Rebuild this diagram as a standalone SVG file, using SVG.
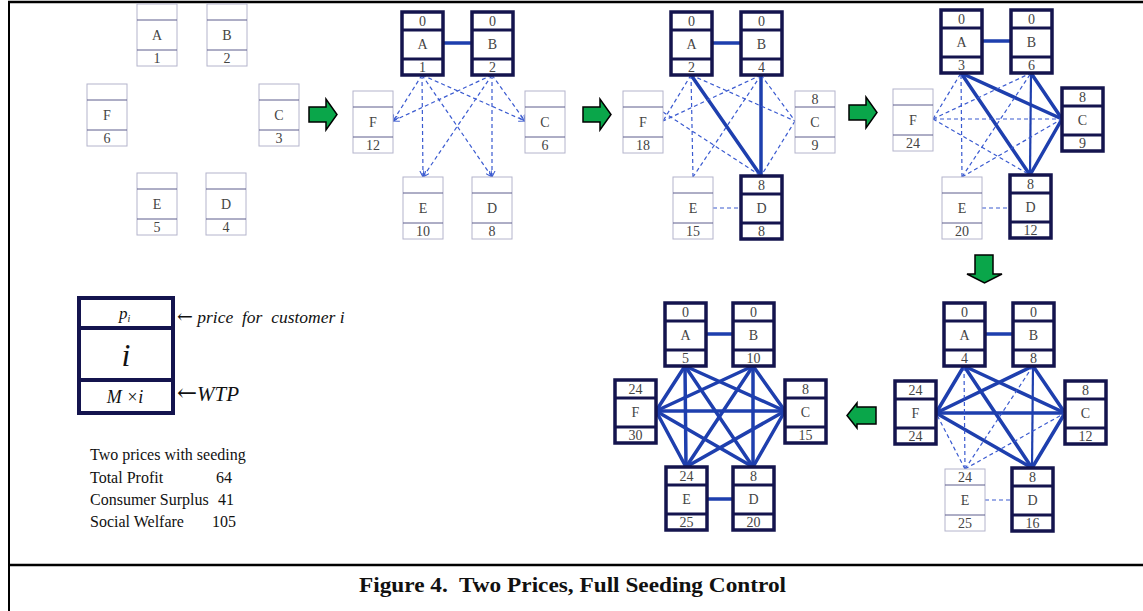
<svg xmlns="http://www.w3.org/2000/svg" width="1143" height="611" viewBox="0 0 1143 611">
  <defs>
    <style>
      .thin rect { fill: #fff; stroke: #b4b4cc; stroke-width: 1; }
      .thin line { stroke: #5c5c8c; stroke-width: 1; }
      .thick rect { fill: #fff; stroke: #14144e; stroke-width: 3.5; }
      .thick line { stroke: #14144e; stroke-width: 3; }
      .nt { font-family: "Liberation Serif", "Times New Roman", serif; font-size: 14px; fill: #444; text-anchor: middle; }
      .s { stroke: #1e3fae; stroke-width: 3.5; fill: none; stroke-linecap: round; }
      .m { stroke: #1e3fae; stroke-width: 2.2; fill: none; }
      .d { stroke: #3a5ad0; stroke-width: 1.2; fill: none; stroke-dasharray: 4 3; }
      .da { stroke: #3a5ad0; stroke-width: 1.2; fill: none; stroke-dasharray: 4 3; marker-end: url(#tip); }
      .go { fill: #0aa64a; stroke: #000; stroke-width: 1.5; stroke-linejoin: miter; }
      .serif { font-family: "Liberation Serif", "Times New Roman", serif; fill: #111; }
      .arr { font-family: "DejaVu Serif", "DejaVu Sans", serif; font-style: normal; }
    </style>
    <marker id="tip" viewBox="0 0 8 8" refX="7" refY="4" markerWidth="7" markerHeight="7" markerUnits="userSpaceOnUse" orient="auto">
      <path d="M0,0.5 L7,4 L0,7.5" fill="none" stroke="#3a5ad0" stroke-width="1.2"/>
    </marker>
  </defs>

  <rect width="1143" height="611" fill="#fff"/>

  <!-- frame -->
  <g id="frame" stroke="#000" fill="none">
    <line x1="8" y1="2" x2="1143" y2="2" stroke-width="2.5"/>
    <line x1="9" y1="1" x2="9" y2="611" stroke-width="2"/>
    <line x1="8" y1="565" x2="1143" y2="565" stroke-width="2.5"/>
  </g>

  <!-- connectors -->
  <g id="connectors">
    <!-- step 2 -->
    <line class="s" x1="443" y1="43" x2="472" y2="43"/>
    <line class="da" x1="422" y1="75" x2="393" y2="121"/>
    <line class="da" x1="422" y1="75" x2="525" y2="121"/>
    <line class="da" x1="422" y1="75" x2="423" y2="177"/>
    <line class="da" x1="422" y1="75" x2="492" y2="177"/>
    <line class="da" x1="492" y1="75" x2="393" y2="121"/>
    <line class="da" x1="492" y1="75" x2="525" y2="121"/>
    <line class="da" x1="492" y1="75" x2="423" y2="177"/>
    <line class="da" x1="492" y1="75" x2="492" y2="177"/>

    <!-- step 3 -->
    <line class="s" x1="712" y1="43" x2="741" y2="43"/>
    <line class="s" x1="691" y1="75" x2="761" y2="176"/>
    <line class="s" x1="761" y1="75" x2="761" y2="176"/>
    <line class="d" x1="691" y1="75" x2="663" y2="121"/>
    <line class="d" x1="691" y1="75" x2="795" y2="121"/>
    <line class="d" x1="691" y1="75" x2="693" y2="177"/>
    <line class="d" x1="761" y1="75" x2="663" y2="121"/>
    <line class="d" x1="761" y1="75" x2="795" y2="121"/>
    <line class="d" x1="761" y1="75" x2="693" y2="177"/>
    <line class="d" x1="663" y1="112" x2="761" y2="176"/>
    <line class="d" x1="795" y1="121" x2="761" y2="176"/>
    <line class="d" x1="713" y1="208" x2="741" y2="208"/>

    <!-- step 4 -->
    <line class="s" x1="982" y1="41" x2="1011" y2="41"/>
    <line class="s" x1="961" y1="73" x2="1062" y2="119"/>
    <line class="s" x1="961" y1="73" x2="1030" y2="175"/>
    <line class="s" x1="1031" y1="73" x2="1062" y2="119"/>
    <line class="m" x1="1031" y1="73" x2="1030" y2="175"/>
    <line class="s" x1="1062" y1="119" x2="1030" y2="175"/>
    <line class="d" x1="933" y1="119" x2="961" y2="73"/>
    <line class="d" x1="933" y1="119" x2="1031" y2="73"/>
    <line class="d" x1="933" y1="119" x2="1062" y2="119"/>
    <line class="d" x1="933" y1="119" x2="1030" y2="175"/>
    <line class="d" x1="962" y1="177" x2="961" y2="73"/>
    <line class="d" x1="962" y1="177" x2="1031" y2="73"/>
    <line class="d" x1="962" y1="177" x2="1062" y2="119"/>
    <line class="d" x1="982" y1="208" x2="1010" y2="208"/>

    <!-- step 5 -->
    <line class="s" x1="985" y1="334" x2="1013" y2="334"/>
    <line class="s" x1="964" y1="366" x2="936" y2="413"/>
    <line class="s" x1="964" y1="366" x2="1065" y2="413"/>
    <line class="s" x1="964" y1="366" x2="1032" y2="468"/>
    <line class="s" x1="1033" y1="366" x2="936" y2="413"/>
    <line class="s" x1="1033" y1="366" x2="1065" y2="413"/>
    <line class="m" x1="1033" y1="366" x2="1032" y2="468"/>
    <line class="s" x1="936" y1="413" x2="1065" y2="413"/>
    <line class="s" x1="936" y1="413" x2="1032" y2="468"/>
    <line class="s" x1="1065" y1="413" x2="1032" y2="468"/>
    <line class="d" x1="965" y1="469" x2="964" y2="366"/>
    <line class="d" x1="965" y1="469" x2="1033" y2="366"/>
    <line class="d" x1="965" y1="469" x2="1065" y2="413"/>
    <line class="d" x1="965" y1="469" x2="936" y2="413"/>
    <line class="d" x1="985" y1="500" x2="1012" y2="500"/>

    <!-- step 6 -->
    <line class="s" x1="706" y1="334" x2="733" y2="334"/>
    <line class="s" x1="707" y1="499" x2="733" y2="499"/>
    <line class="s" x1="685" y1="366" x2="656" y2="411"/>
    <line class="s" x1="685" y1="366" x2="785" y2="411"/>
    <line class="s" x1="685" y1="366" x2="686" y2="467"/>
    <line class="s" x1="685" y1="366" x2="753" y2="467"/>
    <line class="s" x1="753" y1="366" x2="656" y2="411"/>
    <line class="s" x1="753" y1="366" x2="785" y2="411"/>
    <line class="s" x1="753" y1="366" x2="686" y2="467"/>
    <line class="s" x1="753" y1="366" x2="753" y2="467"/>
    <line class="s" x1="656" y1="411" x2="785" y2="411"/>
    <line class="s" x1="656" y1="411" x2="686" y2="467"/>
    <line class="s" x1="656" y1="411" x2="753" y2="467"/>
    <line class="s" x1="785" y1="411" x2="686" y2="467"/>
    <line class="s" x1="785" y1="411" x2="753" y2="467"/>
  </g>

  <!-- step arrows -->
  <g id="step-arrows">
    <polygon class="go" points="309,107 326,107 326,99 337,114.5 326,130 326,122 309,122"/>
    <polygon class="go" points="583,107 600,107 600,99 611,114.5 600,130 600,122 583,122"/>
    <polygon class="go" points="849,105 866,105 866,97 877,112.5 866,128 866,120 849,120"/>
    <polygon class="go" points="975,255 993,255 993,274 1002,274 984.5,283 967,274 975,274"/>
    <polygon class="go" points="876,407 857,407 857,403 847,415.5 857,428 857,424 876,424"/>
  </g>

  <!-- step 1 -->
  <g id="s1-A" class="thin" transform="translate(137,4)"><rect width="40" height="62"/><line x1="0" y1="16" x2="40" y2="16"/><line x1="0" y1="46" x2="40" y2="46"/><text class="nt" x="20" y="36">A</text><text class="nt" x="20" y="59">1</text></g>
  <g id="s1-B" class="thin" transform="translate(207,4)"><rect width="40" height="62"/><line x1="0" y1="16" x2="40" y2="16"/><line x1="0" y1="46" x2="40" y2="46"/><text class="nt" x="20" y="36">B</text><text class="nt" x="20" y="59">2</text></g>
  <g id="s1-F" class="thin" transform="translate(87,84)"><rect width="40" height="62"/><line x1="0" y1="16" x2="40" y2="16"/><line x1="0" y1="46" x2="40" y2="46"/><text class="nt" x="20" y="36">F</text><text class="nt" x="20" y="59">6</text></g>
  <g id="s1-C" class="thin" transform="translate(259,84)"><rect width="40" height="62"/><line x1="0" y1="16" x2="40" y2="16"/><line x1="0" y1="46" x2="40" y2="46"/><text class="nt" x="20" y="36">C</text><text class="nt" x="20" y="59">3</text></g>
  <g id="s1-E" class="thin" transform="translate(137,173)"><rect width="40" height="62"/><line x1="0" y1="16" x2="40" y2="16"/><line x1="0" y1="46" x2="40" y2="46"/><text class="nt" x="20" y="36">E</text><text class="nt" x="20" y="59">5</text></g>
  <g id="s1-D" class="thin" transform="translate(206,173)"><rect width="40" height="62"/><line x1="0" y1="16" x2="40" y2="16"/><line x1="0" y1="46" x2="40" y2="46"/><text class="nt" x="20" y="36">D</text><text class="nt" x="20" y="59">4</text></g>

  <!-- step 2 -->
  <g id="s2-A" class="thick" transform="translate(402,12)"><rect width="41" height="63"/><line x1="0" y1="18" x2="41" y2="18"/><line x1="0" y1="47" x2="41" y2="47"/><text class="nt" x="20.5" y="14">0</text><text class="nt" x="20.5" y="37">A</text><text class="nt" x="20.5" y="60">1</text></g>
  <g id="s2-B" class="thick" transform="translate(472,12)"><rect width="41" height="63"/><line x1="0" y1="18" x2="41" y2="18"/><line x1="0" y1="47" x2="41" y2="47"/><text class="nt" x="20.5" y="14">0</text><text class="nt" x="20.5" y="37">B</text><text class="nt" x="20.5" y="60">2</text></g>
  <g id="s2-F" class="thin" transform="translate(353,91)"><rect width="40" height="62"/><line x1="0" y1="16" x2="40" y2="16"/><line x1="0" y1="46" x2="40" y2="46"/><text class="nt" x="20" y="36">F</text><text class="nt" x="20" y="59">12</text></g>
  <g id="s2-C" class="thin" transform="translate(525,91)"><rect width="40" height="62"/><line x1="0" y1="16" x2="40" y2="16"/><line x1="0" y1="46" x2="40" y2="46"/><text class="nt" x="20" y="36">C</text><text class="nt" x="20" y="59">6</text></g>
  <g id="s2-E" class="thin" transform="translate(403,177)"><rect width="40" height="62"/><line x1="0" y1="16" x2="40" y2="16"/><line x1="0" y1="46" x2="40" y2="46"/><text class="nt" x="20" y="36">E</text><text class="nt" x="20" y="59">10</text></g>
  <g id="s2-D" class="thin" transform="translate(472,177)"><rect width="40" height="62"/><line x1="0" y1="16" x2="40" y2="16"/><line x1="0" y1="46" x2="40" y2="46"/><text class="nt" x="20" y="36">D</text><text class="nt" x="20" y="59">8</text></g>

  <!-- step 3 -->
  <g id="s3-A" class="thick" transform="translate(671,12)"><rect width="41" height="63"/><line x1="0" y1="18" x2="41" y2="18"/><line x1="0" y1="47" x2="41" y2="47"/><text class="nt" x="20.5" y="14">0</text><text class="nt" x="20.5" y="37">A</text><text class="nt" x="20.5" y="60">2</text></g>
  <g id="s3-B" class="thick" transform="translate(741,12)"><rect width="41" height="63"/><line x1="0" y1="18" x2="41" y2="18"/><line x1="0" y1="47" x2="41" y2="47"/><text class="nt" x="20.5" y="14">0</text><text class="nt" x="20.5" y="37">B</text><text class="nt" x="20.5" y="60">4</text></g>
  <g id="s3-F" class="thin" transform="translate(623,91)"><rect width="40" height="62"/><line x1="0" y1="16" x2="40" y2="16"/><line x1="0" y1="46" x2="40" y2="46"/><text class="nt" x="20" y="36">F</text><text class="nt" x="20" y="59">18</text></g>
  <g id="s3-C" class="thin" transform="translate(795,91)"><rect width="40" height="62"/><line x1="0" y1="16" x2="40" y2="16"/><line x1="0" y1="46" x2="40" y2="46"/><text class="nt" x="20" y="13">8</text><text class="nt" x="20" y="36">C</text><text class="nt" x="20" y="59">9</text></g>
  <g id="s3-E" class="thin" transform="translate(673,177)"><rect width="40" height="62"/><line x1="0" y1="16" x2="40" y2="16"/><line x1="0" y1="46" x2="40" y2="46"/><text class="nt" x="20" y="36">E</text><text class="nt" x="20" y="59">15</text></g>
  <g id="s3-D" class="thick" transform="translate(741,176)"><rect width="41" height="63"/><line x1="0" y1="18" x2="41" y2="18"/><line x1="0" y1="47" x2="41" y2="47"/><text class="nt" x="20.5" y="14">8</text><text class="nt" x="20.5" y="37">D</text><text class="nt" x="20.5" y="60">8</text></g>

  <!-- step 4 -->
  <g id="s4-A" class="thick" transform="translate(941,10)"><rect width="41" height="63"/><line x1="0" y1="18" x2="41" y2="18"/><line x1="0" y1="47" x2="41" y2="47"/><text class="nt" x="20.5" y="14">0</text><text class="nt" x="20.5" y="37">A</text><text class="nt" x="20.5" y="60">3</text></g>
  <g id="s4-B" class="thick" transform="translate(1011,10)"><rect width="41" height="63"/><line x1="0" y1="18" x2="41" y2="18"/><line x1="0" y1="47" x2="41" y2="47"/><text class="nt" x="20.5" y="14">0</text><text class="nt" x="20.5" y="37">B</text><text class="nt" x="20.5" y="60">6</text></g>
  <g id="s4-F" class="thin" transform="translate(893,89)"><rect width="40" height="62"/><line x1="0" y1="16" x2="40" y2="16"/><line x1="0" y1="46" x2="40" y2="46"/><text class="nt" x="20" y="36">F</text><text class="nt" x="20" y="59">24</text></g>
  <g id="s4-C" class="thick" transform="translate(1062,88)"><rect width="41" height="63"/><line x1="0" y1="18" x2="41" y2="18"/><line x1="0" y1="47" x2="41" y2="47"/><text class="nt" x="20.5" y="14">8</text><text class="nt" x="20.5" y="37">C</text><text class="nt" x="20.5" y="60">9</text></g>
  <g id="s4-E" class="thin" transform="translate(942,177)"><rect width="40" height="62"/><line x1="0" y1="16" x2="40" y2="16"/><line x1="0" y1="46" x2="40" y2="46"/><text class="nt" x="20" y="36">E</text><text class="nt" x="20" y="59">20</text></g>
  <g id="s4-D" class="thick" transform="translate(1010,175)"><rect width="41" height="63"/><line x1="0" y1="18" x2="41" y2="18"/><line x1="0" y1="47" x2="41" y2="47"/><text class="nt" x="20.5" y="14">8</text><text class="nt" x="20.5" y="37">D</text><text class="nt" x="20.5" y="60">12</text></g>

  <!-- step 5 -->
  <g id="s5-A" class="thick" transform="translate(944,303)"><rect width="41" height="63"/><line x1="0" y1="18" x2="41" y2="18"/><line x1="0" y1="47" x2="41" y2="47"/><text class="nt" x="20.5" y="14">0</text><text class="nt" x="20.5" y="37">A</text><text class="nt" x="20.5" y="60">4</text></g>
  <g id="s5-B" class="thick" transform="translate(1013,303)"><rect width="41" height="63"/><line x1="0" y1="18" x2="41" y2="18"/><line x1="0" y1="47" x2="41" y2="47"/><text class="nt" x="20.5" y="14">0</text><text class="nt" x="20.5" y="37">B</text><text class="nt" x="20.5" y="60">8</text></g>
  <g id="s5-F" class="thick" transform="translate(895,381)"><rect width="41" height="63"/><line x1="0" y1="18" x2="41" y2="18"/><line x1="0" y1="47" x2="41" y2="47"/><text class="nt" x="20.5" y="14">24</text><text class="nt" x="20.5" y="37">F</text><text class="nt" x="20.5" y="60">24</text></g>
  <g id="s5-C" class="thick" transform="translate(1065,381)"><rect width="41" height="63"/><line x1="0" y1="18" x2="41" y2="18"/><line x1="0" y1="47" x2="41" y2="47"/><text class="nt" x="20.5" y="14">8</text><text class="nt" x="20.5" y="37">C</text><text class="nt" x="20.5" y="60">12</text></g>
  <g id="s5-E" class="thin" transform="translate(945,469)"><rect width="40" height="62"/><line x1="0" y1="16" x2="40" y2="16"/><line x1="0" y1="46" x2="40" y2="46"/><text class="nt" x="20" y="13">24</text><text class="nt" x="20" y="36">E</text><text class="nt" x="20" y="59">25</text></g>
  <g id="s5-D" class="thick" transform="translate(1012,468)"><rect width="41" height="63"/><line x1="0" y1="18" x2="41" y2="18"/><line x1="0" y1="47" x2="41" y2="47"/><text class="nt" x="20.5" y="14">8</text><text class="nt" x="20.5" y="37">D</text><text class="nt" x="20.5" y="60">16</text></g>

  <!-- step 6 -->
  <g id="s6-A" class="thick" transform="translate(665,303)"><rect width="41" height="63"/><line x1="0" y1="18" x2="41" y2="18"/><line x1="0" y1="47" x2="41" y2="47"/><text class="nt" x="20.5" y="14">0</text><text class="nt" x="20.5" y="37">A</text><text class="nt" x="20.5" y="60">5</text></g>
  <g id="s6-B" class="thick" transform="translate(733,303)"><rect width="41" height="63"/><line x1="0" y1="18" x2="41" y2="18"/><line x1="0" y1="47" x2="41" y2="47"/><text class="nt" x="20.5" y="14">0</text><text class="nt" x="20.5" y="37">B</text><text class="nt" x="20.5" y="60">10</text></g>
  <g id="s6-F" class="thick" transform="translate(615,380)"><rect width="41" height="63"/><line x1="0" y1="18" x2="41" y2="18"/><line x1="0" y1="47" x2="41" y2="47"/><text class="nt" x="20.5" y="14">24</text><text class="nt" x="20.5" y="37">F</text><text class="nt" x="20.5" y="60">30</text></g>
  <g id="s6-C" class="thick" transform="translate(785,380)"><rect width="41" height="63"/><line x1="0" y1="18" x2="41" y2="18"/><line x1="0" y1="47" x2="41" y2="47"/><text class="nt" x="20.5" y="14">8</text><text class="nt" x="20.5" y="37">C</text><text class="nt" x="20.5" y="60">15</text></g>
  <g id="s6-E" class="thick" transform="translate(666,467)"><rect width="41" height="63"/><line x1="0" y1="18" x2="41" y2="18"/><line x1="0" y1="47" x2="41" y2="47"/><text class="nt" x="20.5" y="14">24</text><text class="nt" x="20.5" y="37">E</text><text class="nt" x="20.5" y="60">25</text></g>
  <g id="s6-D" class="thick" transform="translate(733,467)"><rect width="41" height="63"/><line x1="0" y1="18" x2="41" y2="18"/><line x1="0" y1="47" x2="41" y2="47"/><text class="nt" x="20.5" y="14">8</text><text class="nt" x="20.5" y="37">D</text><text class="nt" x="20.5" y="60">20</text></g>

  <!-- legend -->
  <g id="legend">
    <rect x="79" y="298" width="94" height="115" fill="#fff" stroke="#14144e" stroke-width="4"/>
    <line x1="79" y1="328" x2="173" y2="328" stroke="#14144e" stroke-width="4"/>
    <line x1="79" y1="380" x2="173" y2="380" stroke="#14144e" stroke-width="4"/>
    <text class="serif" x="119" y="319" font-size="17" font-style="italic">p<tspan font-size="10" dy="3">i</tspan></text>
    <text class="serif" x="126" y="366" font-size="32" font-style="italic" text-anchor="middle">i</text>
    <text class="serif" x="125" y="403" font-size="18" font-style="italic" text-anchor="middle">M ×i</text>
    <text class="serif" x="177" y="323" font-size="17.5" font-style="italic" xml:space="preserve"><tspan class="arr" font-size="19">←</tspan> price  for  customer i</text>
    <text class="serif" x="177" y="401" font-size="21" font-style="italic"><tspan class="arr" font-size="24">←</tspan>WTP</text>
  </g>

  <!-- results -->
  <g id="results" class="serif" font-size="16">
    <text x="90" y="460">Two prices with seeding</text>
    <text x="90" y="483">Total Profit</text>
    <text x="216" y="483">64</text>
    <text x="90" y="505">Consumer Surplus</text>
    <text x="218" y="505">41</text>
    <text x="90" y="527">Social Welfare</text>
    <text x="212" y="527">105</text>
  </g>

  <!-- caption -->
  <text id="caption" class="serif" x="359" y="592" font-size="21" font-weight="bold" textLength="427" lengthAdjust="spacingAndGlyphs" xml:space="preserve">Figure 4.  Two Prices, Full Seeding Control</text>
</svg>
